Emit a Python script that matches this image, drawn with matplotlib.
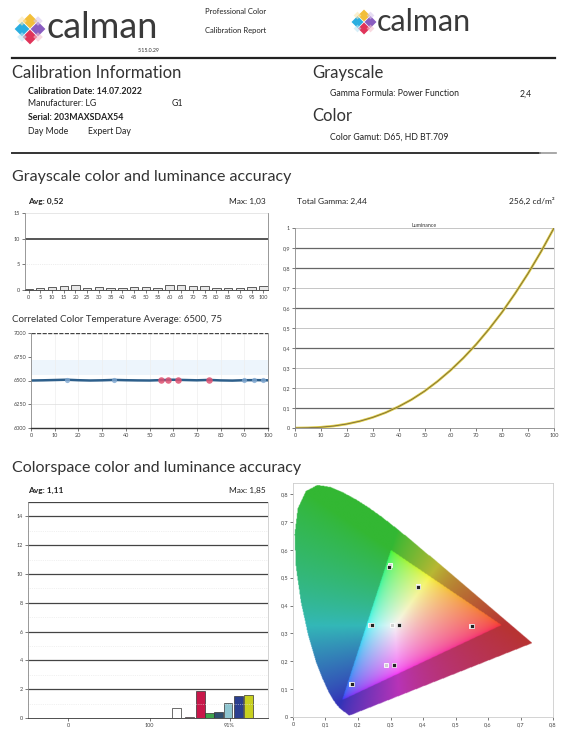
import numpy as np
import matplotlib
matplotlib.use("Agg")
import matplotlib.pyplot as plt
from matplotlib.patches import Polygon
from matplotlib.path import Path

plt.rcParams['font.family'] = ['Lato', 'DejaVu Sans']

gs_levels = [0, 5, 10, 15, 20, 25, 30, 35, 40, 45, 50, 55, 60, 65, 70, 75, 80, 85, 90, 95, 100]
gs_de = [0.2, 0.3, 0.5, 0.7, 0.9, 0.3, 0.6, 0.3, 0.3, 0.5, 0.6, 0.3, 1.03, 0.9, 0.8, 0.7, 0.4, 0.3, 0.4, 0.6, 0.8]

cct_levels = [0, 5, 10, 15, 20, 25, 30, 35, 40, 45, 50, 55, 60, 65, 70, 75, 80, 85, 90, 95, 100]
cct_vals = [6500, 6502, 6505, 6508, 6503, 6500, 6502, 6506, 6503, 6501, 6500, 6504, 6508, 6505, 6502, 6506, 6501, 6499, 6503, 6504, 6502]
cct_red_x = [55, 58, 62, 75]
cct_red_y = [6505, 6507, 6509, 6506]
cct_blue_x = [15, 35, 90, 94, 98]
cct_blue_y = [6508, 6506, 6503, 6504, 6503]
cct_ticks = [6000, 6250, 6500, 6750, 7000]

gamma_x = [0, 5, 10, 15, 20, 25, 30, 35, 40, 45, 50, 55, 60, 65, 70, 75, 80, 85, 90, 95, 100]
gamma_y = [0.0, 0.001, 0.004, 0.01, 0.02, 0.034, 0.053, 0.077, 0.107, 0.142, 0.184,
           0.233, 0.288, 0.35, 0.419, 0.496, 0.58, 0.673, 0.773, 0.882, 1.0]

cs_pos = [18.6, 20.2, 21.6, 22.7, 23.8, 25.0, 26.3, 27.6]
cs_de = [0.71, 0.05, 1.85, 0.36, 0.43, 1.07, 1.5, 1.57]
cs_colors = ['#ffffff', '#f0a8c8', '#c8174a', '#3fa34d', '#2f4f6f', '#8ec5d0', '#2a3f8f', '#c8d020']
cs_tick_pos = [5, 15.2, 25.2]
cs_tick_lab = ['0', '100', '91%']

# CIE 1931 spectral locus (380-700 nm)
locus_x = [0.1741, 0.1738, 0.1733, 0.1726, 0.1714, 0.1703, 0.1689, 0.1669, 0.1644, 0.1611,
           0.1566, 0.1510, 0.1440, 0.1355, 0.1241, 0.1096, 0.0913, 0.0687, 0.0454, 0.0235,
           0.0082, 0.0039, 0.0139, 0.0389, 0.0743, 0.1142, 0.1547, 0.1929, 0.2296, 0.2658,
           0.3016, 0.3373, 0.3731, 0.4087, 0.4441, 0.4788, 0.5125, 0.5448, 0.5752, 0.6029,
           0.6270, 0.6482, 0.6658, 0.6801, 0.6915, 0.7006, 0.7079, 0.7140, 0.7190, 0.7260,
           0.7300, 0.7347]
locus_y = [0.0050, 0.0049, 0.0048, 0.0048, 0.0051, 0.0058, 0.0069, 0.0086, 0.0109, 0.0138,
           0.0177, 0.0227, 0.0297, 0.0399, 0.0578, 0.0868, 0.1327, 0.2007, 0.2950, 0.4127,
           0.5384, 0.6548, 0.7502, 0.8120, 0.8338, 0.8262, 0.8059, 0.7816, 0.7543, 0.7243,
           0.6923, 0.6589, 0.6245, 0.5896, 0.5547, 0.5202, 0.4866, 0.4544, 0.4242, 0.3965,
           0.3725, 0.3514, 0.3340, 0.3197, 0.3083, 0.2993, 0.2920, 0.2859, 0.2809, 0.2740,
           0.2700, 0.2653]
gamut_x = [0.64, 0.30, 0.15]
gamut_y = [0.33, 0.60, 0.06]
target_x = [0.297, 0.385, 0.305, 0.238, 0.548, 0.286, 0.178]
target_y = [0.545, 0.470, 0.330, 0.332, 0.328, 0.187, 0.118]
meas_x = [0.295, 0.384, 0.327, 0.243, 0.551, 0.310, 0.182]
meas_y = [0.540, 0.468, 0.332, 0.332, 0.326, 0.186, 0.118]

W, H = 564, 730


def fbox(l, t, r, b):
    return [l / W, 1 - b / H, (r - l) / W, (b - t) / H]


def dec(v):
    return ('%g' % v).replace('.', ',')


fig = plt.figure(figsize=(W / 100, H / 100), dpi=100)

# overlay axes in pixel coordinates for header text, logos, rules
bg = fig.add_axes([0, 0, 1, 1])
bg.set_xlim(0, W)
bg.set_ylim(H, 0)
bg.axis('off')


def logo(cx, cy, d):
    cols = {(0, -1): '#f2bf3a', (-1, 0): '#2aaee0', (1, 0): '#8a5cc0', (0, 1): '#e0345a'}
    for (dx, dy), c in cols.items():
        x, y = cx + dx * d, cy + dy * d
        h = d * 0.92
        bg.add_patch(Polygon([(x, y - h), (x + h, y), (x, y + h), (x - h, y)],
                             closed=True, color=c, lw=0))
    for (dx, dy), c in [((-1, -1), '#fbe7b0'), ((1, -1), '#d8c8ee'), ((-1, 1), '#bfe6f5'), ((1, 1), '#f6c0cc')]:
        x, y = cx + dx * d, cy + dy * d
        h = d * 0.6
        bg.add_patch(Polygon([(x, y - h), (x + h, y), (x, y + h), (x - h, y)],
                             closed=True, color=c, lw=0, alpha=0.6))


logo(30, 29, 8)
bg.text(47, 28, 'calman', fontsize=26, color='#3a3a3a', va='center', ha='left')
bg.text(160, 50, '5.15.0.29', fontsize=3.8, color='#333', ha='right', va='center')
bg.text(205, 12, 'Professional Color', fontsize=5.5, color='#222', va='center')
bg.text(205, 30, 'Calibration Report', fontsize=5.5, color='#222', va='center')
logo(364, 22, 6.5)
bg.text(377, 22, 'calman', fontsize=22, color='#3a3a3a', va='center', ha='left')

bg.plot([12, 555], [58, 58], color='#222', lw=1.6)
bg.plot([12, 540], [153, 153], color='#333', lw=1.4)
bg.plot([540, 556], [153, 153], color='#999', lw=1.2)

bg.text(12, 73, 'Calibration Information', fontsize=12, color='#333', va='center')
bg.text(28, 91, 'Calibration Date: 14.07.2022', fontsize=6.3, color='#222', va='center', weight='bold')
bg.text(28, 104, 'Manufacturer: LG', fontsize=6.3, color='#222', va='center')
bg.text(172, 104, 'G1', fontsize=6.3, color='#222', va='center')
bg.text(28, 117, 'Serial: 203MAXSDAX54', fontsize=6.3, color='#222', va='center', weight='bold')
bg.text(28, 131, 'Day Mode', fontsize=6.3, color='#222', va='center')
bg.text(88, 131, 'Expert Day', fontsize=6.3, color='#222', va='center')

bg.text(312, 73, 'Grayscale', fontsize=12, color='#333', va='center')
bg.text(330, 94, 'Gamma Formula: Power Function', fontsize=6.3, color='#222', va='center')
bg.text(520, 94, '2,4', fontsize=6.3, color='#222', va='center')
bg.text(312, 116, 'Color', fontsize=12, color='#333', va='center')
bg.text(330, 137, 'Color Gamut: D65, HD BT.709', fontsize=6.3, color='#222', va='center')

bg.text(12, 177, 'Grayscale color and luminance accuracy', fontsize=11.5, color='#333', va='center')
bg.text(28, 201, 'Avg: 0,52', fontsize=6, color='#222', va='center', weight='bold')
bg.text(266, 201, 'Max: 1,03', fontsize=6, color='#222', va='center', ha='right')
bg.text(12, 320, 'Correlated Color Temperature Average: 6500, 75', fontsize=7, color='#333', va='center')
bg.text(297, 201, 'Total Gamma: 2,44', fontsize=6, color='#222', va='center')
bg.text(555, 201, '256,2 cd/m²', fontsize=6, color='#222', va='center', ha='right')
bg.text(12, 468, 'Colorspace color and luminance accuracy', fontsize=11.5, color='#333', va='center')
bg.text(28, 490, 'Avg: 1,11', fontsize=6, color='#222', va='center', weight='bold')
bg.text(266, 490, 'Max: 1,85', fontsize=6, color='#222', va='center', ha='right')


def style(ax):
    ax.tick_params(labelsize=4, length=2, width=0.5, colors='#444', pad=1.5)
    for s in ax.spines.values():
        s.set_color('#888')
        s.set_linewidth(0.6)


# ---- grayscale deltaE ----
ax1 = fig.add_axes(fbox(25, 213, 268, 290))
style(ax1)
ax1.axhline(10, color='#555', lw=1.4)
ax1.axhline(5, color='#ddd', lw=0.5, ls=':')
ax1.axhline(15, color='#ddd', lw=0.5)
ax1.bar(gs_levels, gs_de, width=3.6, color='#e8e8e8', edgecolor='#444', lw=0.6)
ax1.set_xlim(-1.5, 102)
ax1.set_ylim(0, 15)
ax1.set_yticks([0, 5, 10, 15])
ax1.set_xticks(gs_levels)
ax1.set_xticklabels([str(v) for v in gs_levels])
ax1.spines['top'].set_visible(False)
ax1.spines['bottom'].set_color('#333')

# ---- CCT ----
ax2 = fig.add_axes(fbox(31, 333, 268, 428))
style(ax2)
ax2.axhspan(6560, 6720, color='#edf5fc', lw=0)
for xv in range(10, 100, 10):
    ax2.axvline(xv, color='#eee', lw=0.5)
ax2.axhline(6250, color='#ddd', lw=0.5)
ax2.axhline(7000, color='#444', lw=1.0, ls=(0, (3, 1)))
ax2.plot(cct_levels, cct_vals, color='#2d5f8b', lw=1.8)
ax2.scatter(cct_blue_x, cct_blue_y, s=14, color='#7fa7d0', alpha=0.8, lw=0, zorder=3)
ax2.scatter(cct_red_x, cct_red_y, s=22, color='#e05070', alpha=0.85, lw=0, zorder=3)
ax2.set_xlim(0, 100)
ax2.set_ylim(6000, 7000)
ax2.set_xticks(range(0, 101, 10))
ax2.set_yticks(cct_ticks)
ax2.spines['bottom'].set_color('#333')
ax2.spines['bottom'].set_linewidth(1.0)
ax2.spines['top'].set_visible(False)

# ---- gamma / luminance ----
ax3 = fig.add_axes(fbox(295, 228, 554, 428))
style(ax3)
dark = [0.1, 0.4, 0.6, 0.8, 0.9]
for yv in np.arange(0.1, 1.01, 0.1):
    yv = round(yv, 1)
    ax3.axhline(yv, color='#666' if yv in dark else '#bbb', lw=0.9 if yv in dark else 0.6)
ax3.plot(gamma_x, gamma_y, color='#dccb45', lw=1.8)
ax3.plot(gamma_x, gamma_y, color='#6b5a3a', lw=0.5)
ax3.set_xlim(0, 100)
ax3.set_ylim(0, 1)
ax3.set_xticks(range(0, 101, 10))
ax3.set_yticks(np.arange(0, 1.01, 0.1))
ax3.set_yticklabels([dec(round(v, 1)) for v in np.arange(0, 1.01, 0.1)])
ax3.set_title('Luminance', fontsize=3.8, color='#333', pad=1)
ax3.spines['top'].set_visible(False)
ax3.spines['right'].set_color('#ccc')

# ---- colorspace deltaE bars ----
ax4 = fig.add_axes(fbox(28, 502, 268, 718))
style(ax4)
for yv in range(2, 15, 2):
    ax4.axhline(yv, color='#444', lw=0.9)
    ax4.axhline(yv - 1, color='#e4e4e4', lw=0.5, ls=':')
ax4.axhline(15, color='#444', lw=0.9)
ax4.bar(cs_pos, cs_de, width=1.1, color=cs_colors, edgecolor='#333', lw=0.5)
ax4.set_xlim(0, 30)
ax4.set_ylim(0, 15)
ax4.set_yticks(range(0, 15, 2))
ax4.set_xticks(cs_tick_pos)
ax4.set_xticklabels(cs_tick_lab)
ax4.spines['top'].set_visible(False)
ax4.spines['bottom'].set_color('#333')
ax4.spines['right'].set_color('#ccc')

# ---- CIE 1931 diagram ----
ax5 = fig.add_axes(fbox(293, 483, 553, 717))
style(ax5)
xs = np.linspace(0, 0.8, 400)
ys = np.linspace(0, 0.84, 420)
X, Y = np.meshgrid(xs, ys)
Yc = np.maximum(Y, 1e-4)
XYZ = np.stack([X / Yc, np.ones_like(X), (1 - X - Y) / Yc], axis=-1)
M = np.array([[3.2406, -1.5372, -0.4986],
              [-0.9689, 1.8758, 0.0415],
              [0.0557, -0.2040, 1.0570]])
lin = np.clip(XYZ @ M.T, 0, None)
lin = lin / np.maximum(lin.max(axis=-1, keepdims=True), 1e-9)
rgb = np.where(lin <= 0.0031308, 12.92 * lin, 1.055 * lin ** (1 / 2.4) - 0.055)
pts = np.column_stack([X.ravel(), Y.ravel()])
in_locus = Path(np.column_stack([locus_x, locus_y])).contains_points(pts).reshape(X.shape)
in_gamut = Path(np.column_stack([gamut_x, gamut_y])).contains_points(pts).reshape(X.shape)
col = np.where(in_gamut[..., None], 0.78 * rgb + 0.18, 0.52 * rgb ** 1.6 + 0.2)
img = np.dstack([np.clip(col, 0, 1), in_locus.astype(float)])
ax5.imshow(img, extent=(0, 0.8, 0, 0.84), origin='lower', aspect='auto', interpolation='bilinear')
ax5.scatter(target_x, target_y, marker='s', s=12, facecolor='#d0d0d0', edgecolor='white', lw=0.6, zorder=3)
ax5.scatter(meas_x, meas_y, marker='s', s=11, facecolor='#222', edgecolor='white', lw=0.5, zorder=4)
ax5.set_xlim(0, 0.8)
ax5.set_ylim(0, 0.84)
ax5.set_xticks(np.arange(0, 0.81, 0.1))
ax5.set_xticklabels([dec(round(v, 1)) for v in np.arange(0, 0.81, 0.1)])
ax5.set_yticks(np.arange(0, 0.81, 0.1))
ax5.set_yticklabels([dec(round(v, 1)) for v in np.arange(0, 0.81, 0.1)])
for s in ax5.spines.values():
    s.set_color('#ccc')

fig.savefig('out.png', dpi=100)
